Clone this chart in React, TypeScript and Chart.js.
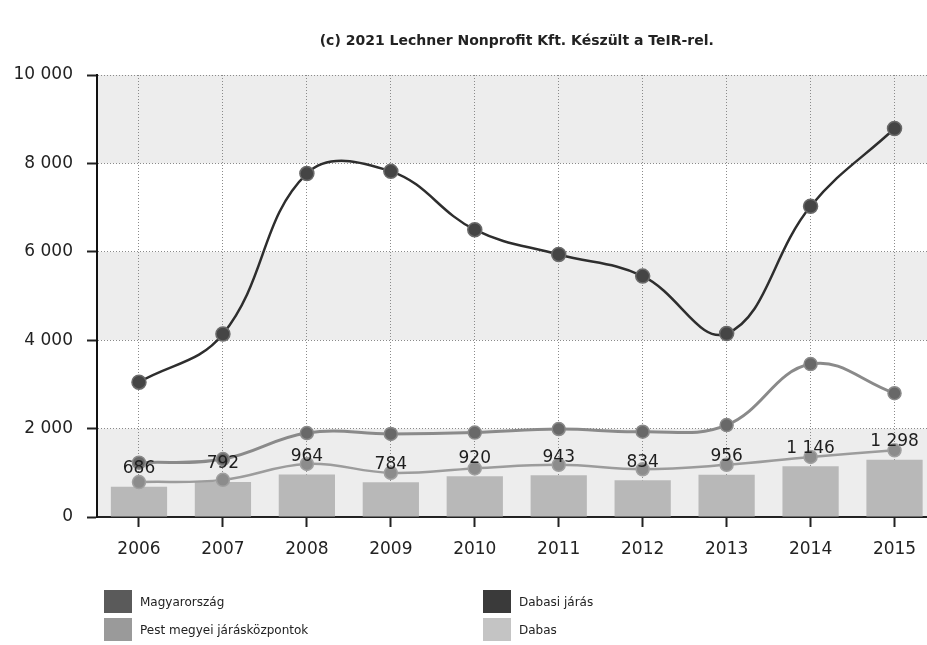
import React, { useEffect, useRef } from "react";
import { Chart, registerables } from "chart.js";

Chart.register(...registerables);

const years = ["2006", "2007", "2008", "2009", "2010", "2011", "2012", "2013", "2014", "2015"];
const dabasiJaras = [3050, 4140, 7770, 7820, 6500, 5940, 5450, 4150, 7030, 8790];
const magyarorszag = [1230, 1310, 1900, 1880, 1910, 1990, 1930, 2080, 3460, 2800];
const pestMegyei = [790, 840, 1200, 1000, 1100, 1180, 1080, 1180, 1360, 1510];
const dabas = [686, 792, 964, 784, 920, 943, 834, 956, 1146, 1298];
const yStep = 2000;
const yMax = 10000;
const bands = [
  [0, 2000],
  [4000, 6000],
  [8000, 10000],
];
const titleText = "(c) 2021 Lechner Nonprofit Kft. Készült a TeIR-rel.";
const legendItems = [
  { label: "Magyarország", color: "#5a5a5a", col: 0, row: 0 },
  { label: "Dabasi járás", color: "#3a3a3a", col: 1, row: 0 },
  { label: "Pest megyei járásközpontok", color: "#9a9a9a", col: 0, row: 1 },
  { label: "Dabas", color: "#c4c4c4", col: 1, row: 1 },
];

const FONT = '"DejaVu Sans", Verdana, sans-serif';

function fmt(n: number): string {
  return String(n).replace(/\B(?=(\d{3})+(?!\d))/g, " ");
}

const extras = {
  id: "extras",
  beforeDraw(chart: any) {
    const { ctx, chartArea: a, scales } = chart;
    const y = scales.y;
    ctx.save();
    ctx.fillStyle = "#ededed";
    for (const [lo, hi] of bands) {
      const t = y.getPixelForValue(hi);
      const b = y.getPixelForValue(lo);
      ctx.fillRect(a.left, t, a.right - a.left, b - t);
    }
    ctx.fillStyle = "#222";
    ctx.font = "bold 14px " + FONT;
    ctx.textAlign = "center";
    ctx.textBaseline = "middle";
    ctx.fillText(titleText, (a.left + a.right) / 2, 41);
    ctx.restore();
  },
  afterDatasetsDraw(chart: any) {
    const { ctx } = chart;
    const meta = chart.getDatasetMeta(3);
    ctx.save();
    ctx.fillStyle = "#1e1e1e";
    ctx.font = "17px " + FONT;
    ctx.textAlign = "center";
    ctx.textBaseline = "middle";
    meta.data.forEach((bar: any, i: number) => {
      ctx.fillText(fmt(dabas[i]), bar.x, bar.y - 18);
    });
    ctx.restore();
  },
};

export default function App() {
  const ref = useRef<HTMLCanvasElement | null>(null);

  useEffect(() => {
    if (!ref.current) return;
    const chart = new Chart(ref.current, {
      type: "bar",
      data: {
        labels: years,
        datasets: [
          {
            type: "line",
            label: "Dabasi járás",
            data: dabasiJaras,
            borderColor: "#2e2e2e",
            borderWidth: 2.5,
            pointRadius: 7,
            pointBackgroundColor: "#454545",
            pointBorderColor: "#6a6a6a",
            pointBorderWidth: 1.5,
            tension: 0.4,
            fill: false,
            order: 1,
          } as any,
          {
            type: "line",
            label: "Magyarország",
            data: magyarorszag,
            borderColor: "#8a8a8a",
            borderWidth: 3,
            pointRadius: 6.5,
            pointBackgroundColor: "#686868",
            pointBorderColor: "#8a8a8a",
            pointBorderWidth: 1.5,
            tension: 0.4,
            fill: false,
            order: 2,
          },
          {
            type: "line",
            label: "Pest megyei járásközpontok",
            data: pestMegyei,
            borderColor: "#9c9c9c",
            borderWidth: 2.5,
            pointRadius: 6.5,
            pointBackgroundColor: "#8c8c8c",
            pointBorderColor: "#a0a0a0",
            pointBorderWidth: 1.5,
            tension: 0.4,
            fill: false,
            order: 3,
          },
          {
            type: "bar",
            label: "Dabas",
            data: dabas,
            backgroundColor: "#b8b8b8",
            borderWidth: 0,
            barPercentage: 0.67,
            categoryPercentage: 1,
            order: 10,
          },
        ],
      },
      options: {
        responsive: false,
        animation: false,
        events: [],
        layout: { padding: { top: 75, right: 8, left: 0, bottom: 0 } },
        plugins: {
          legend: { display: false },
          title: { display: false },
          tooltip: { enabled: false },
        },
        scales: {
          x: {
            offset: true,
            grid: {
              offset: false,
              color: "#8a8a8a",
              lineWidth: 1,
              tickLength: 10,
              tickColor: "#222",
              tickWidth: 2,
            },
            border: { display: true, color: "#222", width: 2, dash: [1, 2] },
            ticks: {
              color: "#222",
              font: { family: FONT, size: 17 },
              padding: 12,
              maxRotation: 0,
            },
            afterFit: (s: any) => {
              s.height = 128;
            },
          },
          y: {
            min: 0,
            max: yMax,
            ticks: {
              stepSize: yStep,
              callback: (v: any) => fmt(Number(v)),
              color: "#222",
              font: { family: FONT, size: 17 },
              padding: 14,
            },
            grid: {
              color: "#8a8a8a",
              lineWidth: 1,
              tickLength: 10,
              tickColor: "#222",
              tickWidth: 2,
            },
            border: { display: true, color: "#111", width: 2, dash: [1, 2] },
            afterFit: (s: any) => {
              s.width = 97;
            },
          },
        },
      },
      plugins: [extras],
    } as any);
    return () => chart.destroy();
  }, []);

  return (
    <div
      style={{
        position: "fixed",
        left: 0,
        top: 0,
        width: 927,
        height: 645,
        overflow: "hidden",
        background: "#fff",
      }}
    >
      <div style={{ position: "relative", width: 945, height: 645 }}>
        <canvas ref={ref} width={945} height={645} style={{ display: "block" }} />
        {legendItems.map((it) => (
          <div
            key={it.label}
            style={{
              position: "absolute",
              left: it.col === 0 ? 104 : 483,
              top: it.row === 0 ? 590 : 618,
              height: 23,
              display: "flex",
              alignItems: "center",
              fontFamily: FONT,
              fontSize: 12,
              color: "#222",
              whiteSpace: "nowrap",
            }}
          >
            <span
              style={{
                display: "inline-block",
                width: 28,
                height: 23,
                background: it.color,
                marginRight: 8,
              }}
            />
            <span>{it.label}</span>
          </div>
        ))}
      </div>
    </div>
  );
}
